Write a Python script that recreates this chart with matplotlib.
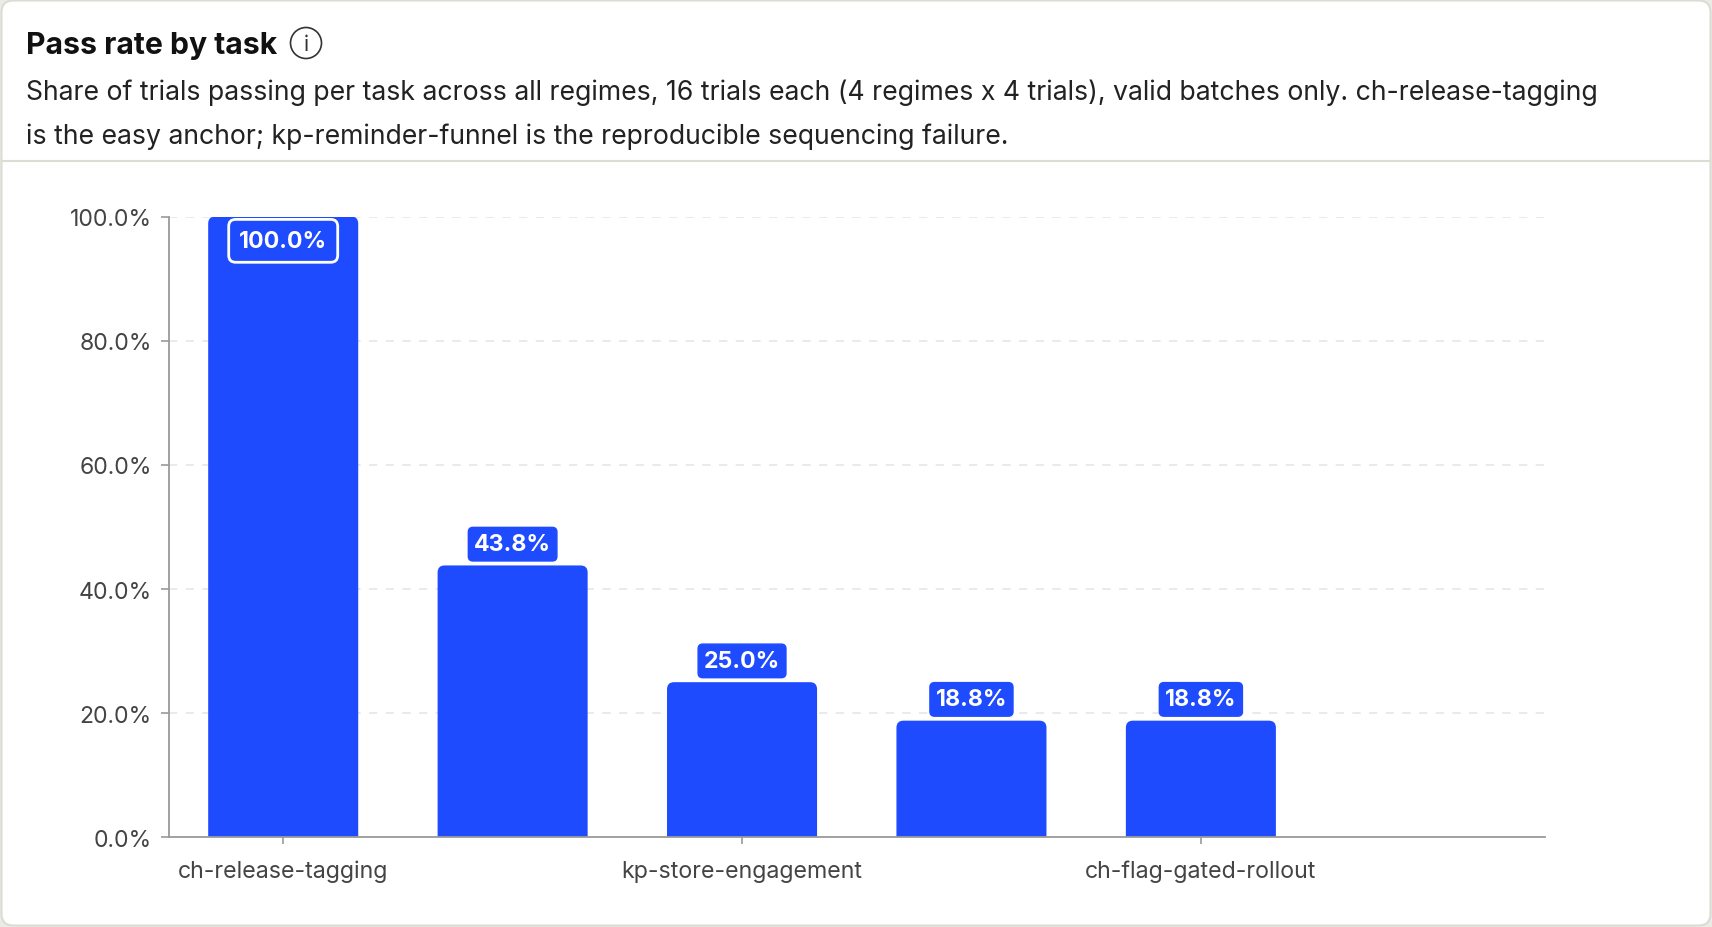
import numpy as np
import matplotlib
matplotlib.use("Agg")
import matplotlib.pyplot as plt
from matplotlib.patches import FancyBboxPatch, Circle
from matplotlib.lines import Line2D

plt.rcParams['font.family'] = ['Inter', 'DejaVu Sans']

# data
tasks = ['ch-release-tagging', 'task-2', 'kp-store-engagement', 'task-4',
         'ch-flag-gated-rollout', 'kp-reminder-funnel']
pass_rate = [100.0, 43.8, 25.0, 18.8, 18.8, 0.0]
y_ticks = [0, 20, 40, 60, 80, 100]

title = 'Pass rate by task'
subtitle = ['Share of trials passing per task across all regimes, 16 trials each (4 regimes x 4 trials), valid batches only. ch-release-tagging',
            'is the easy anchor; kp-reminder-funnel is the reproducible sequencing failure.']

BLUE = '#1F4BFF'
W, H = 1712, 928

fig = plt.figure(figsize=(W / 100, H / 100), dpi=100)
fig.patch.set_facecolor('#ecece6')

# card background in pixel units
px = fig.dpi_scale_trans
def P(v):
    return v / 100.0

card = FancyBboxPatch((P(1.5), P(1.5)), P(W - 3), P(H - 3),
                      boxstyle='round,pad=0,rounding_size=0.12',
                      transform=px, facecolor='white', edgecolor='#dcdcd4', linewidth=1.5,
                      zorder=-10)
fig.patches.append(card)
fig.lines.append(Line2D([P(2), P(W - 2)], [P(H - 162), P(H - 162)], transform=px,
                        color='#dcdcd4', linewidth=1.5, zorder=-9))

# header text
fig.text(26 / W, 1 - 46 / H, title, fontsize=21.7, fontweight='bold', color='#111111',
         va='center', ha='left')
fig.patches.append(Circle((P(306), P(H - 44)), P(15.5), transform=px, fill=False,
                          edgecolor='#333333', linewidth=1.2))
fig.text(306 / W, 1 - 45 / H, 'i', fontsize=15, color='#333333', ha='center', va='center')
for i, line in enumerate(subtitle):
    fig.text(26 / W, 1 - (93 + 43.7 * i) / H, line, fontsize=19.2, color='#222222',
             va='center', ha='left')

# axes
ax = fig.add_axes([168.5 / W, 1 - 838.4 / H, (1545 - 168.5) / W, (838.4 - 217.5) / H])
x = np.arange(len(tasks))
bars = ax.bar(x, pass_rate, width=0.654, color=BLUE)
ax.set_xlim(-0.5, len(tasks) - 0.5)
ax.set_ylim(0, 100)

# swap bars for rounded-top versions
fig.canvas.draw()
bbox = ax.get_window_extent()
xpx = bbox.width / (len(tasks))
ypx = bbox.height / 100.0
r = 7.0 / xpx
aspect = (7.0 / ypx) / r
for rect in bars:
    h = rect.get_height()
    if h <= 0:
        rect.remove()
        continue
    rb = FancyBboxPatch((rect.get_x(), -3), rect.get_width(), h + 3,
                        boxstyle='round,pad=0,rounding_size=%f' % r,
                        mutation_aspect=aspect, facecolor=BLUE, edgecolor='none', zorder=2)
    ax.add_patch(rb)
    rect.remove()

# value labels
for xi, v in zip(x, pass_rate):
    if v <= 0:
        continue
    if v >= 95:
        ax.annotate('%.1f%%' % v, (xi, v), xytext=(0, -9.6), textcoords='offset points',
                    ha='center', va='top', color='white', fontsize=16.7, fontweight='bold',
                    zorder=5,
                    bbox=dict(boxstyle='round,pad=0.45,rounding_size=0.3', fc=BLUE,
                              ec='white', lw=2))
    else:
        ax.annotate('%.1f%%' % v, (xi, v), xytext=(0, 7.4), textcoords='offset points',
                    ha='center', va='bottom', color='white', fontsize=16.7, fontweight='bold',
                    zorder=5,
                    bbox=dict(boxstyle='round,pad=0.25,rounding_size=0.2', fc=BLUE,
                              ec=BLUE, lw=1))

ax.set_yticks(y_ticks)
ax.set_yticklabels(['%.1f%%' % t for t in y_ticks])
ax.set_xticks(x[::2])
ax.set_xticklabels(tasks[::2])

for t in y_ticks[1:]:
    ax.axhline(t, color='#e6e6e6', lw=1.2, ls=(0, (5, 5)), zorder=0)

for s in ['top', 'right']:
    ax.spines[s].set_visible(False)
for s in ['left', 'bottom']:
    ax.spines[s].set_color('#9a9a9a')
    ax.spines[s].set_linewidth(1.3)
ax.tick_params(axis='y', length=6, width=1.2, color='#9a9a9a', pad=6,
               labelsize=16.6, labelcolor='#444444')
ax.tick_params(axis='x', length=5, width=1.2, color='#9a9a9a', pad=11,
               labelsize=16.7, labelcolor='#444444')
ax.set_facecolor('none')

fig.savefig('out.png', dpi=100)
